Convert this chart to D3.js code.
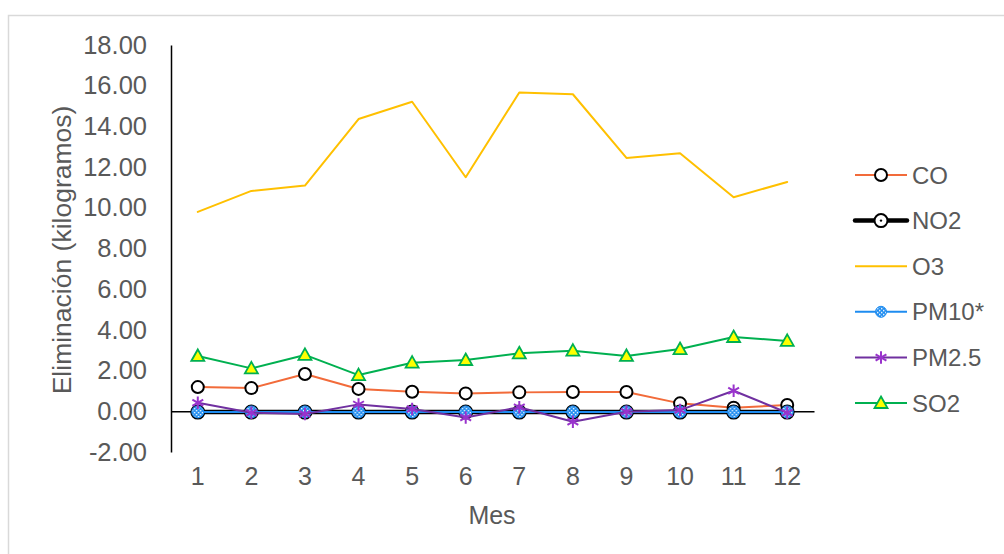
<!DOCTYPE html>
<html>
<head>
<meta charset="utf-8">
<script src="https://cdn.jsdelivr.net/npm/d3@7"></script>
<style>
  html, body { margin: 0; padding: 0; background: #fff; }
  svg { display: block; font-family: "Liberation Sans", Arial, sans-serif; }
</style>
</head>
<body>
<svg id="chart" width="1004" height="554"></svg>
<script>
// Monthly removal per pollutant (kg)
const months = ["1","2","3","4","5","6","7","8","9","10","11","12"];
const coValues   = [1.19, 1.14, 1.83, 1.10, 0.96, 0.88, 0.93, 0.95, 0.95, 0.39, 0.18, 0.31];
const no2Values  = [-0.04, -0.04, -0.04, -0.04, -0.04, -0.04, -0.04, -0.04, -0.04, -0.04, -0.04, -0.04];
const o3Values   = [9.80, 10.83, 11.09, 14.36, 15.21, 11.50, 15.67, 15.58, 12.45, 12.68, 10.52, 11.27];
const pm10Values = [-0.03, -0.03, -0.03, -0.03, -0.03, -0.03, -0.03, -0.03, -0.03, -0.03, -0.03, -0.03];
const pm25Values = [0.42, -0.07, -0.13, 0.34, 0.11, -0.30, 0.20, -0.51, -0.02, 0.06, 1.01, -0.07];
const so2Values  = [2.72, 2.11, 2.77, 1.78, 2.39, 2.52, 2.85, 2.98, 2.72, 3.06, 3.65, 3.46];
const seriesNames = ["CO", "NO2", "O3", "PM10*", "PM2.5", "SO2"];
const yTicks = [-2, 0, 2, 4, 6, 8, 10, 12, 14, 16, 18];

const series = [
  { name: seriesNames[0], values: coValues,   color: "#F26B3A", width: 2,   marker: "circle" },
  { name: seriesNames[1], values: no2Values,  color: "#000000", width: 4.5, marker: "circleDot" },
  { name: seriesNames[2], values: o3Values,   color: "#FFC000", width: 2,   marker: "none" },
  { name: seriesNames[3], values: pm10Values, color: "#1E8CF0", width: 2,   marker: "checker" },
  { name: seriesNames[4], values: pm25Values, color: "#7030A0", width: 2,   marker: "star" },
  { name: seriesNames[5], values: so2Values,  color: "#00B050", width: 2,   marker: "triangle" }
];

const svg = d3.select("#chart");
const textColor = "#595959";
const fontFamily = "Liberation Sans, Arial, sans-serif";

// chart area frame
svg.append("rect")
  .attr("x", 8.5).attr("y", 15.5)
  .attr("width", 1004).attr("height", 554)
  .attr("fill", "#fff").attr("stroke", "#D9D9D9").attr("stroke-width", 1.5);

// checker fill for PM10 markers
const defs = svg.append("defs");
const pat = defs.append("pattern")
  .attr("id", "checker").attr("patternUnits", "userSpaceOnUse")
  .attr("width", 4).attr("height", 4);
pat.append("rect").attr("width", 4).attr("height", 4).attr("fill", "#1E8CF0");
pat.append("rect").attr("x", 0).attr("y", 0).attr("width", 1.4).attr("height", 1.4).attr("fill", "#fff");
pat.append("rect").attr("x", 2).attr("y", 2).attr("width", 1.4).attr("height", 1.4).attr("fill", "#fff");

const x = d3.scaleBand().domain(months).range([171, 814]);
const y = d3.scaleLinear().domain([-2, 18]).range([452, 45]);
const cx = m => x(m) + x.bandwidth() / 2;

// y axis (hyphen-minus for negative values)
const fmt = d3.format(".2f");
const yAxis = d3.axisLeft(y).tickValues(yTicks).tickSize(0).tickPadding(24)
  .tickFormat(d => fmt(d).replace("\u2212", "-"));
const gy = svg.append("g").attr("transform", "translate(171,0)").call(yAxis);
gy.select(".domain").attr("stroke", "#000").attr("stroke-width", 1.5);
gy.selectAll("text").attr("fill", textColor).attr("font-size", 25.5)
  .attr("font-family", fontFamily);

// x axis line at zero, labels below the plot
const xAxis = d3.axisBottom(x).tickSize(0).tickPadding(0);
const gx = svg.append("g").attr("transform", `translate(0,${y(0)})`).call(xAxis);
gx.select(".domain").attr("stroke", "#000").attr("stroke-width", 1.5);
gx.selectAll("text").remove();
const gxl = svg.append("g").attr("transform", `translate(0,${y(-2)})`).call(xAxis);
gxl.select(".domain").remove();
gxl.selectAll("text").attr("fill", textColor).attr("font-size", 25)
  .attr("font-family", fontFamily)
  .attr("dy", "1.3em");

// axis titles
svg.append("text")
  .attr("transform", "translate(71,250) rotate(-90)")
  .attr("text-anchor", "middle").attr("fill", textColor).attr("font-size", 26.5)
  .text("Eliminación (kilogramos)");
svg.append("text")
  .attr("x", 492).attr("y", 524)
  .attr("text-anchor", "middle").attr("fill", textColor).attr("font-size", 25)
  .text("Mes");

// marker drawing
const starPath = d3.symbol().type(d3.symbolAsterisk).size(110)();
function drawMarker(g, s, px, py, legend) {
  const t = g.append("g").attr("transform", `translate(${px},${py})`);
  if (s.marker === "circle") {
    t.append("circle").attr("r", 6).attr("fill", "#fff").attr("stroke", "#000").attr("stroke-width", 2);
  } else if (s.marker === "circleDot") {
    t.append("circle").attr("r", 6.5).attr("fill", "#fff").attr("stroke", "#000").attr("stroke-width", 2);
    t.append("circle").attr("r", 1.2).attr("fill", "#000");
  } else if (s.marker === "checker") {
    t.append("circle").attr("r", legend ? 5.5 : 6).attr("fill", "url(#checker)")
      .attr("stroke", "#1E8CF0").attr("stroke-width", 1);
  } else if (s.marker === "star") {
    t.append("path").attr("d", starPath).attr("fill", "none")
      .attr("stroke", "#9933CC").attr("stroke-width", 2);
  } else if (s.marker === "triangle") {
    t.append("path").attr("d", "M0,-6.5L6.5,5L-6.5,5Z")
      .attr("fill", "#FFFF00").attr("stroke", "#00B050").attr("stroke-width", 1.8)
      .attr("stroke-linejoin", "miter");
  }
}

// series lines and markers
const line = d3.line().x((d, i) => cx(months[i])).y(d => y(d));
const plot = svg.append("g");
series.forEach(s => {
  const g = plot.append("g");
  g.append("path").attr("d", line(s.values)).attr("fill", "none")
    .attr("stroke", s.color).attr("stroke-width", s.width)
    .attr("stroke-linejoin", "round").attr("stroke-linecap", "round");
  s.values.forEach((v, i) => drawMarker(g, s, cx(months[i]), y(v), false));
});

// legend
const legend = svg.append("g");
series.forEach((s, i) => {
  const ly = 175 + i * 45.6;
  const g = legend.append("g");
  g.append("line").attr("x1", 855).attr("x2", 907).attr("y1", ly).attr("y2", ly)
    .attr("stroke", s.color).attr("stroke-width", s.width)
    .attr("stroke-linecap", s.width > 3 ? "round" : "butt");
  drawMarker(g, s, 881, ly, true);
  g.append("text").attr("x", 912).attr("y", ly).attr("dy", "0.36em")
    .attr("fill", textColor).attr("font-size", 24).text(s.name);
});
</script>
</body>
</html>
